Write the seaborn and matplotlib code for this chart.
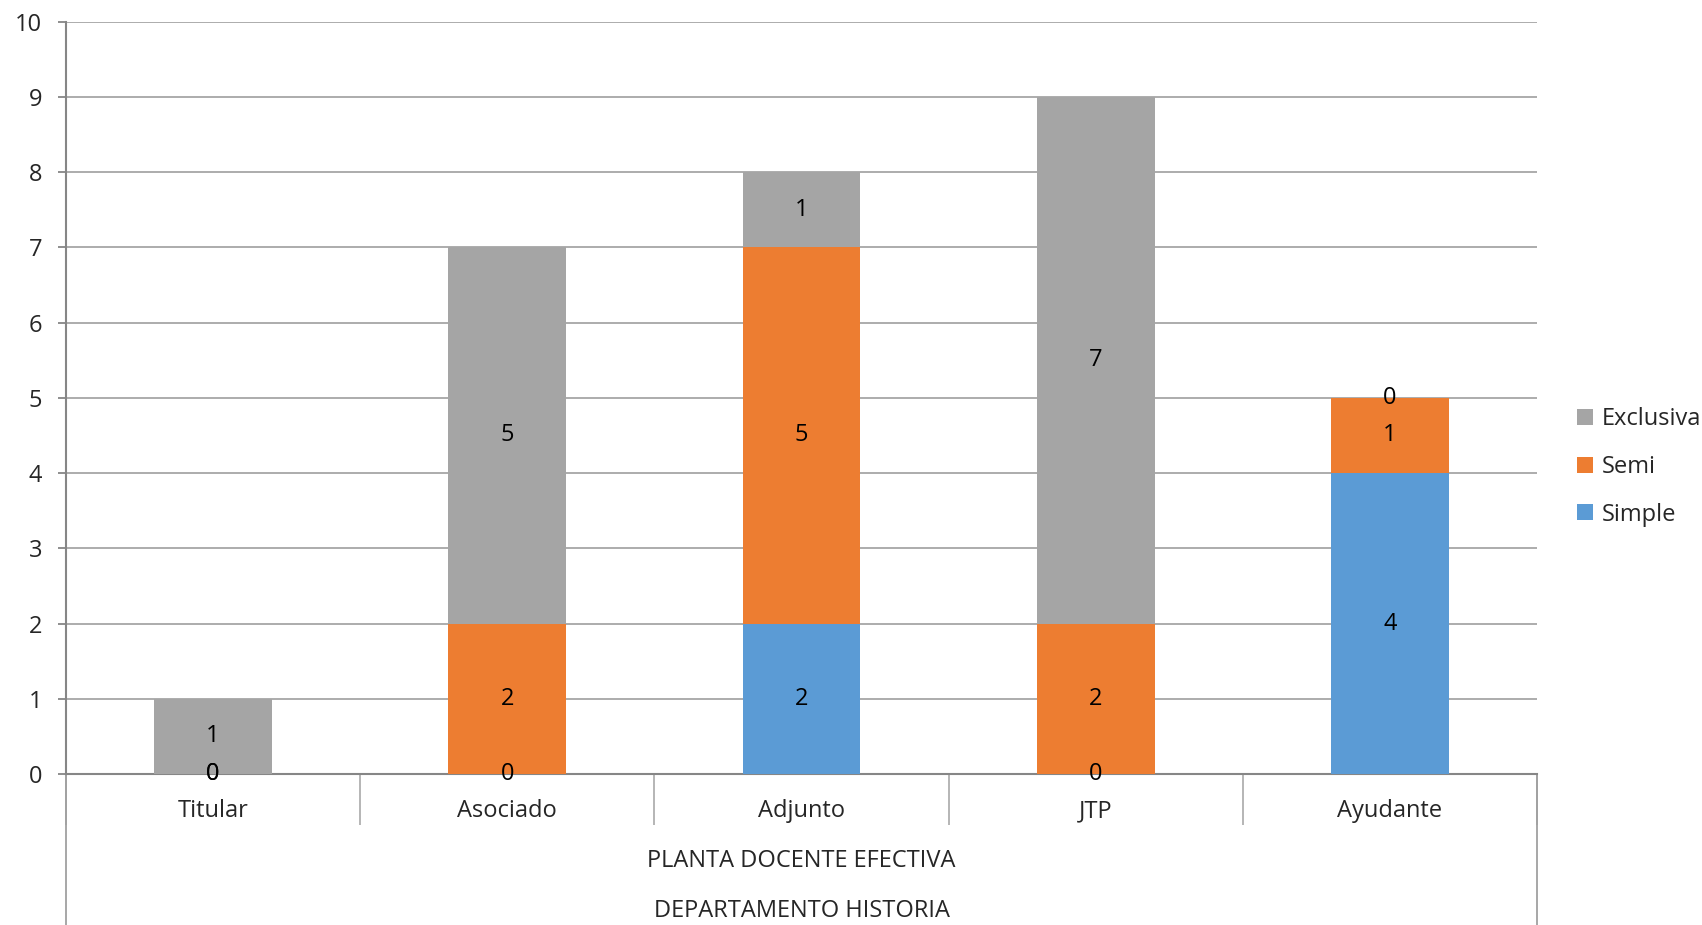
import matplotlib
matplotlib.use("Agg")
import matplotlib.pyplot as plt
import seaborn as sns
import numpy as np
from matplotlib.lines import Line2D

categories = ["Titular", "Asociado", "Adjunto", "JTP", "Ayudante"]
simple = [0, 0, 2, 0, 4]
semi = [0, 2, 5, 2, 1]
exclusiva = [1, 5, 1, 7, 0]
yticks = list(range(0, 11))
group_labels = ["PLANTA DOCENTE EFECTIVA", "DEPARTAMENTO HISTORIA"]

sns.set_theme(style="white")
plt.rcParams['font.family'] = ['Open Sans', 'DejaVu Sans']

C_SIMPLE = "#5B9BD5"
C_SEMI = "#ED7D31"
C_EXCL = "#A5A5A5"
GRID = "#A6A6A6"
AXC = "#868686"
FS = 17

fig = plt.figure(figsize=(17.02, 9.25), dpi=100)
ax = fig.add_axes([66/1702, 1-774/925, (1537-66)/1702, (774-21.7)/925])

b0 = np.zeros(len(categories))
series = [("Simple", simple, C_SIMPLE), ("Semi", semi, C_SEMI), ("Exclusiva", exclusiva, C_EXCL)]
bottom = b0.copy()
for name, vals, col in series:
    sns.barplot(x=categories, y=vals, bottom=bottom, color=col, width=0.4,
                ax=ax, label=name, linewidth=0, saturation=1, zorder=3)
    bottom = bottom + np.array(vals)

for cont in ax.containers:
    ax.bar_label(cont, label_type="center", fontsize=FS, color="black", zorder=5)

ax.set_xlim(-0.5, 4.5)
ax.set_ylim(0, 10)
ax.set_yticks(yticks)
ax.set_yticklabels([str(t) for t in yticks], fontsize=FS)
ax.yaxis.grid(True, color=GRID, linewidth=1.3, zorder=0)
ax.set_axisbelow(True)
ax.tick_params(axis="y", length=6, width=1.3, color=AXC, pad=11, left=True)
ax.set_xticks(range(len(categories)))
ax.set_xticklabels(categories, fontsize=FS)
ax.tick_params(axis="x", which="major", length=0, pad=18)
ax.set_xticks(np.arange(-0.5, 5.0, 1.0), minor=True)
ax.tick_params(axis="x", which="minor", length=37, width=1.3, color="#B0B0B0", bottom=True)
ax.set_xlabel("")
ax.set_ylabel("")

for s in ["top", "right"]:
    ax.spines[s].set_visible(False)
ax.spines["left"].set_color(AXC)
ax.spines["left"].set_linewidth(1.5)
ax.spines["bottom"].set_color(AXC)
ax.spines["bottom"].set_linewidth(1.5)

# outer category frame lines extending below the axis
for xa in [0.0, 1.0]:
    ax.add_line(Line2D([xa, xa], [0, -(925-774)/(774-21.7)], transform=ax.transAxes,
                       color="#A0A0A0", linewidth=1.3, clip_on=False))

fig.text((66+1537)/2/1702, 1-861/925, group_labels[0], ha="center", va="center", fontsize=FS)
fig.text((66+1537)/2/1702, 1-911/925, group_labels[1], ha="center", va="center", fontsize=FS)

handles, labels = ax.get_legend_handles_labels()
order = [2, 1, 0]
leg = ax.legend([handles[i] for i in order], [labels[i] for i in order],
                loc="center left", bbox_to_anchor=(1.013, 0.408), frameon=False,
                fontsize=FS, handlelength=0.65, handleheight=0.65, handletextpad=0.4,
                labelspacing=1.0)

fig.savefig("out.png", dpi=100)
